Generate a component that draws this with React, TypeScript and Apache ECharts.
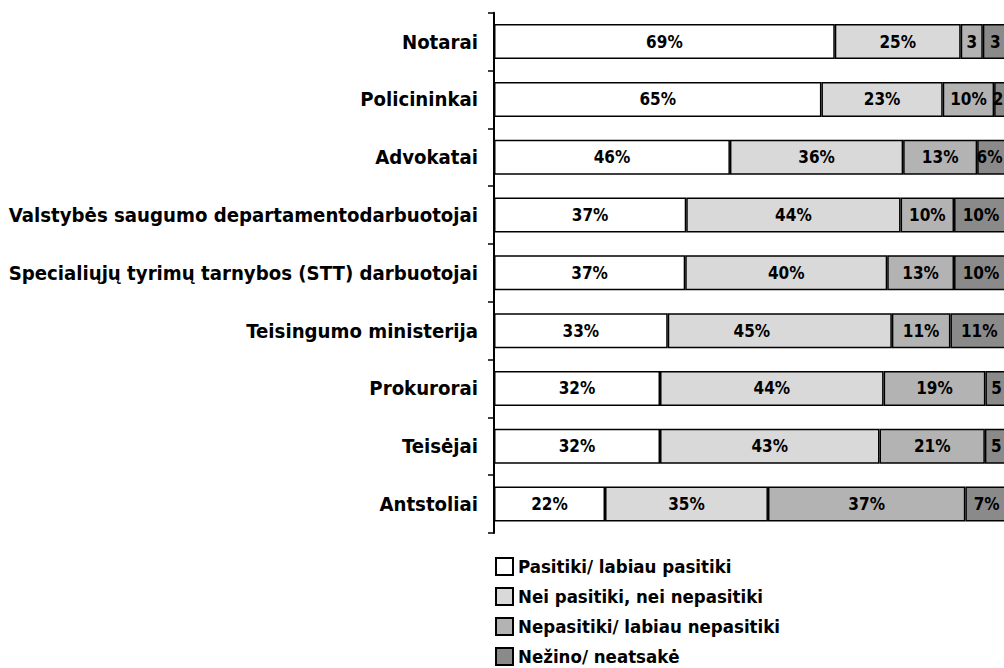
import React, { useEffect, useRef } from "react";
import * as echarts from "echarts";

const categories = [
  "Notarai",
  "Policininkai",
  "Advokatai",
  "Valstybės saugumo departamentodarbuotojai",
  "Specialiųjų tyrimų tarnybos (STT) darbuotojai",
  "Teisingumo ministerija",
  "Prokurorai",
  "Teisėjai",
  "Antstoliai",
];

const seriesNames = [
  "Pasitiki/ labiau pasitiki",
  "Nei pasitiki, nei nepasitiki",
  "Nepasitiki/ labiau nepasitiki",
  "Nežino/ neatsakė",
];

// segment widths (percent)
const trustValues = [66.3, 63.7, 45.9, 37.4, 37.2, 33.8, 32.3, 32.3, 21.6];
const neutralValues = [24.5, 23.6, 33.7, 41.7, 39.3, 43.6, 43.5, 42.7, 31.7];
const distrustValues = [4.3, 10.0, 14.4, 10.4, 13.0, 11.4, 19.8, 20.5, 38.4];
const unknownValues = [4.9, 2.7, 6.0, 10.5, 10.5, 11.2, 4.4, 4.5, 8.3];

// printed labels as shown on the picture
const trustLabels = ["69%", "65%", "46%", "37%", "37%", "33%", "32%", "32%", "22%"];
const neutralLabels = ["25%", "23%", "36%", "44%", "40%", "45%", "44%", "43%", "35%"];
const distrustLabels = ["3", "10%", "13%", "10%", "13%", "11%", "19%", "21%", "37%"];
const unknownLabels = ["3", "2", "6%", "10%", "10%", "11%", "5", "5", "7%"];

const colors = ["#ffffff", "#d9d9d9", "#b3b3b3", "#8a8a8a"];

const FONT =
  "'Liberation Sans Narrow', 'DejaVu Sans Condensed', 'Roboto Condensed', Roboto, sans-serif";

function labelOffset(si: number, i: number): number[] | null {
  if (si === 1 && i === 5) return [-28, 0];
  if (si === 3 && (i === 1 || i === 2)) return [-3, 0];
  return null;
}

export default function App() {
  const ref = useRef<HTMLDivElement>(null);

  useEffect(() => {
    if (!ref.current) return;
    const chart = echarts.init(ref.current, null, { renderer: "svg" });
    const allValues = [trustValues, neutralValues, distrustValues, unknownValues];
    const allLabels = [trustLabels, neutralLabels, distrustLabels, unknownLabels];

    const series = seriesNames.map((name, si) => ({
      name,
      type: "bar",
      stack: "total",
      barWidth: 35,
      itemStyle: { color: colors[si], borderColor: "#000", borderWidth: 1.5 },
      label: {
        show: true,
        position: "inside",
        color: "#000",
        fontWeight: "bold",
        fontSize: 17,
        fontFamily: FONT,
        formatter: (p: any) => allLabels[si][p.dataIndex],
      },
      data: allValues[si].map((v, i) => {
        const off = labelOffset(si, i);
        return off ? { value: v, label: { offset: off } } : v;
      }),
    }));

    chart.setOption({
      animation: false,
      backgroundColor: "#ffffff",
      grid: {
        left: 494,
        top: 12.7,
        height: 520.3,
        width: 514,
        containLabel: false,
        outerBoundsMode: "none",
      },
      xAxis: { type: "value", min: 0, max: 100, show: false },
      yAxis: {
        type: "category",
        inverse: true,
        data: categories,
        axisLine: { show: true, lineStyle: { color: "#000", width: 2 } },
        axisTick: { show: true, length: 6, lineStyle: { color: "#000", width: 1.5 } },
        axisLabel: {
          color: "#000",
          fontWeight: "bold",
          fontSize: 20.2,
          fontFamily: FONT,
          margin: 16,
        },
        splitLine: { show: false },
      },
      legend: {
        orient: "vertical",
        left: 495,
        top: 557,
        padding: 0,
        itemWidth: 17,
        itemHeight: 17,
        itemGap: 11,
        icon: "rect",
        textStyle: { color: "#000", fontWeight: "bold", fontSize: 18.5, fontFamily: FONT },
        data: seriesNames,
      },
      series,
    });
    return () => chart.dispose();
  }, []);

  return (
    <div
      style={{
        position: "fixed",
        left: 0,
        top: 0,
        width: 1004,
        height: 668,
        overflow: "hidden",
        background: "#fff",
      }}
    >
      <div ref={ref} style={{ width: 1040, height: 720 }} />
    </div>
  );
}
